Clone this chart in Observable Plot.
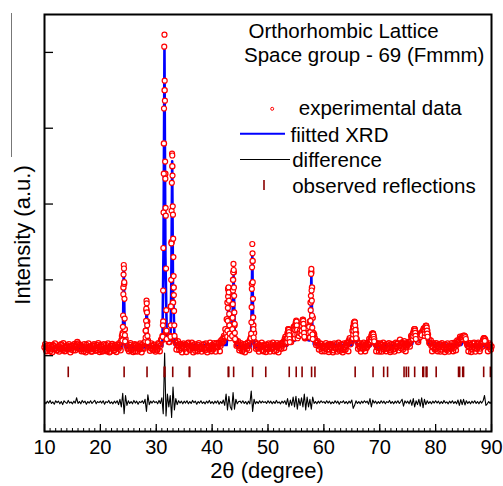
<!DOCTYPE html>
<html><head><meta charset="utf-8">
<script src="https://cdn.jsdelivr.net/npm/d3@7"></script>
<script src="https://cdn.jsdelivr.net/npm/@observablehq/plot@0.6"></script>
<style>
html,body{margin:0;padding:0;background:#fff;}
#chart{width:503px;height:486px;}
</style></head><body><div id="chart"></div>
<script>
// ---- data ----
const obsStep = 0.25;
// experimental data on the measurement grid: [start 2θ, counts every 0.25°]
const obsRows = [
  [10, [110, 80, 130, 95, 60, 120, 140, 85, 100, 70, 125, 90, 150, 75, 105, 65, 135, 95, 115, 80]],
  [15, [100, 130, 70, 150, 160, 110, 85, 120, 60, 95, 140, 75, 105, 125, 55, 90, 130, 100, 70, 115]],
  [20, [85, 120, 65, 100, 140, 80, 110, 55, 95, 130, 75, 105, 145, 90, 120, 200, 300, 950, 220, 130]],
  [25, [95, 140, 70, 110, 125, 60, 100, 135, 85, 115, 150, 90, 180, 600, 200, 120, 100, 130, 80, 110]],
  [30, [120, 90, 150, 130, 200, 450, 3500, 320, 220, 180, 260, 1500, 700, 230, 170, 140, 120, 150, 100, 130]],
  [35, [90, 145, 110, 170, 75, 120, 100, 135, 65, 110, 140, 85, 120, 95, 150, 70, 105, 130, 80, 115]],
  [40, [140, 95, 120, 160, 110, 150, 130, 170, 190, 240, 300, 700, 800, 300, 350, 1000, 400, 200, 150, 130]],
  [45, [100, 135, 80, 120, 155, 90, 130, 200, 250, 1250, 300, 160, 120, 95, 140, 110, 75, 130, 100, 145]],
  [50, [85, 120, 150, 95, 110, 140, 70, 125, 100, 160, 130, 180, 220, 160, 300, 330, 200, 220, 300, 350]],
  [55, [440, 300, 260, 330, 380, 470, 300, 240, 260, 300, 450, 1100, 500, 280, 200, 170, 140, 120, 150, 100]],
  [60, [130, 95, 120, 145, 80, 110, 135, 70, 105, 150, 90, 120, 100, 140, 75, 115, 130, 160, 200, 150]],
  [65, [200, 380, 440, 300, 180, 130, 100, 135, 90, 115, 150, 120, 140, 180, 260, 290, 220, 150, 110, 130]],
  [70, [95, 140, 110, 80, 125, 150, 100, 135, 70, 120, 145, 90, 115, 160, 130, 100, 175, 120, 150, 110]],
  [75, [140, 160, 190, 240, 300, 350, 260, 200, 230, 290, 280, 330, 350, 390, 330, 220, 160, 130, 110, 140]],
  [80, [95, 130, 110, 150, 80, 120, 100, 145, 75, 115, 135, 90, 125, 105, 150, 140, 180, 210, 230, 240]],
  [85, [260, 250, 180, 130, 110, 140, 85, 120, 100, 135, 150, 120, 95, 160, 200, 225, 180, 130, 110, 140]],
  [90, [120]]
];
// experimental data measured midway between the grid steps (start + 0.125°)
const obsRowsMid = [
  [10, [150, 60, 105, 140, 85, 45, 125, 160, 70, 115, 55, 140, 95, 165, 60, 120, 85, 150, 45, 130]],
  [15, [70, 155, 120, 180, 90, 145, 60, 100, 150, 45, 115, 160, 80, 55, 135, 150, 65, 140, 165, 50]],
  [20, [140, 55, 150, 75, 60, 160, 45, 130, 155, 65, 140, 50, 110, 165, 70, 260, 900, 350, 160, 90]],
  [25, [60, 165, 115, 50, 150, 140, 55, 90, 160, 45, 105, 170, 330, 450, 150, 65, 160, 75, 145, 55]],
  [30, [70, 165, 60, 210, 260, 2800, 2400, 220, 260, 180, 650, 2500, 900, 200, 80, 190, 75, 155, 45, 160]],
  [35, [145, 50, 160, 95, 130, 170, 45, 150, 100, 60, 165, 120, 55, 140, 90, 160, 45, 120, 170, 60]],
  [40, [80, 165, 55, 120, 170, 60, 200, 220, 260, 350, 480, 880, 400, 260, 500, 1100, 220, 130, 190, 70]],
  [45, [165, 60, 150, 45, 120, 170, 75, 230, 950, 400, 180, 90, 160, 55, 125, 170, 60, 145, 50, 110]],
  [50, [160, 55, 95, 170, 60, 120, 165, 45, 150, 90, 170, 100, 250, 230, 350, 220, 180, 280, 380, 400]],
  [55, [420, 260, 310, 360, 430, 400, 230, 260, 280, 380, 700, 900, 300, 230, 140, 190, 80, 160, 60, 130]],
  [60, [60, 165, 80, 50, 155, 140, 45, 160, 95, 55, 170, 65, 150, 45, 160, 80, 170, 60, 230, 190]],
  [65, [330, 430, 360, 220, 90, 165, 55, 150, 170, 60, 100, 170, 220, 210, 290, 260, 170, 60, 165, 55]],
  [70, [160, 55, 170, 140, 60, 90, 165, 50, 155, 80, 55, 170, 160, 70, 210, 160, 80, 190, 60, 165]],
  [75, [180, 120, 260, 280, 330, 310, 240, 180, 280, 300, 320, 360, 370, 350, 280, 170, 200, 60, 165, 80]],
  [80, [165, 60, 150, 55, 165, 140, 50, 90, 160, 55, 100, 165, 60, 170, 70, 200, 160, 250, 210, 260]],
  [85, [240, 200, 150, 60, 165, 50, 160, 170, 55, 90, 170, 60, 165, 120, 230, 210, 150, 60, 160, 80]]
];
// extra experimental points measured across the peaks: [2θ, counts]
const peakPoints = [
  [23.95,200],[23.99,280],[24.03,380],[24.07,530],[24.11,810],[24.15,1070],[24.19,1196],[24.23,1150],[24.27,970],[24.31,750],[24.35,490],[24.39,270],[24.43,190],
  [28.06,190],[28.10,240],[28.14,330],[28.18,460],[28.22,620],[28.26,725],[28.30,690],[28.34,570],[28.38,400],[28.42,260],[28.46,180],
  [31.15,250],[31.19,400],[31.23,860],[31.27,1420],[31.31,1890],[31.35,2400],[31.39,3260],[31.43,4075],[31.47,4234],[31.51,3627],[31.55,3363],[31.59,2560],[31.63,2335],[31.67,1950],[31.71,1846],[31.75,1150],[31.79,600],[31.83,330],[31.87,220],
  [32.55,250],[32.59,400],[32.63,650],[32.67,1000],[32.71,1480],[32.75,1910],[32.79,2280],[32.83,2665],[32.87,2640],[32.91,2375],[32.95,1970],[32.99,1860],[33.03,1543],[33.07,1300],[33.11,1050],[33.15,800],[33.19,590],[33.23,400],[33.27,260],
  [42.70,250],[42.74,330],[42.78,460],[42.82,630],[42.86,780],[42.90,880],[42.94,901],[42.98,835],[43.02,725],[43.06,550],[43.10,400],[43.14,290],[43.18,230],
  [43.58,260],[43.62,350],[43.66,500],[43.70,680],[43.74,860],[43.78,1100],[43.82,1210],[43.86,1130],[43.90,900],[43.94,790],[43.98,570],[44.02,420],[44.06,300],[44.10,220],
  [46.95,230],[46.99,290],[47.03,440],[47.07,640],[47.11,880],[47.15,1165],[47.19,1473],[47.23,1350],[47.27,970],[47.31,750],[47.35,505],[47.39,350],[47.43,240],
  [53.45,180],[53.5,230],[53.55,290],[53.6,330],[53.65,352],[53.7,340],[53.75,310],[53.8,270],[53.85,220],[53.9,180],
  [54.8,230],[54.85,280],[54.9,340],[54.95,400],[55.0,440],[55.05,462],[55.1,450],[55.15,400],[55.2,340],[55.25,280],[55.3,230],[55.5,260],[55.6,300],[55.7,330],[55.8,300],
  [56.0,280],[56.05,330],[56.1,390],[56.15,440],[56.2,470],[56.25,475],[56.3,460],[56.35,420],[56.4,360],[56.45,300],[56.5,250],
  [57.52,240],[57.56,310],[57.60,460],[57.64,600],[57.68,790],[57.72,1078],[57.76,1144],[57.80,860],[57.84,725],[57.88,530],[57.92,370],[57.96,280],[58.00,220],
  [65.2,230],[65.25,280],[65.3,330],[65.35,380],[65.4,420],[65.45,440],[65.5,449],[65.55,440],[65.6,400],[65.65,340],[65.7,280],[65.75,230],
  [68.55,200],[68.6,240],[68.65,270],[68.7,285],[68.75,294],[68.8,290],[68.85,280],[68.9,250],[68.95,220],[69.0,190],
  [75.95,220],[76.0,260],[76.05,300],[76.1,330],[76.15,345],[76.2,352],[76.25,350],[76.3,330],[76.35,300],[76.4,260],[76.45,220],
  [77.3,250],[77.35,280],[77.4,290],[77.45,285],[77.5,270],
  [78.05,260],[78.1,300],[78.15,340],[78.2,370],[78.25,390],[78.3,396],[78.35,390],[78.4,370],[78.45,330],[78.5,290],[78.55,250],
  [84.85,220],[84.95,240],[85.0,255],[85.1,264],[85.2,260],[85.3,245],[85.4,220],
  [88.5,190],[88.55,210],[88.6,225],[88.65,228],[88.7,225],[88.75,215],[88.8,195]
];
// fitted XRD profile: [2θ, intensity]
const fitted = [
  [10,100],[23.9,105],[24.05,400],[24.19,1165],[24.33,400],[24.5,110],
  [28.0,110],[28.15,300],[28.28,686],[28.42,280],[28.6,115],
  [31.1,130],[31.3,1400],[31.47,4063],[31.64,1300],[31.9,200],
  [32.55,200],[32.7,1000],[32.85,2563],[33.0,900],[33.3,140],
  [42.6,140],[42.8,400],[42.94,850],[43.1,400],[43.3,300],[43.6,350],[43.84,1055],[44.05,330],[44.3,130],
  [46.9,120],[47.05,500],[47.19,1345],[47.33,480],[47.5,110],
  [53.4,130],[53.69,330],[54.0,180],[54.8,200],[55.07,430],[55.4,250],[56.0,250],[56.27,450],[56.6,220],
  [57.4,200],[57.62,500],[57.76,1055],[57.9,450],[58.2,150],
  [65.1,140],[65.52,420],[65.9,140],[68.4,130],[68.82,280],[69.2,120],
  [75.8,150],[76.27,330],[76.8,200],[77.45,270],[78.37,380],[78.9,150],
  [84.6,140],[85.23,250],[85.7,130],[88.4,120],[88.71,215],[89.0,115],[90,100]
];
// difference curve (obs - fit) on the 0.25° grid, drawn shifted below
const diffOffset = -615;
const diffRows = [
  [10, [10,-20,15,-10,25,-15,5,-25,20,-5,15,-20,10,-30,20,0,-15,25,-10,5]],
  [15, [-20,15,-10,60,-15,10,-20,25,-5,15,-25,10,-10,20,-15,5,25,-20,10,-5]],
  [20, [15,-10,20,-25,10,-5,25,-15,5,-20,15,-10,20,-30,40,-60,120,-150,90,-40]],
  [25, [20,-15,10,-20,25,-10,15,-25,10,-5,20,-15,40,-120,100,-30,15,-10,20,-5]],
  [30, [10,-20,25,-15,60,-150,650,-180,110,-60,90,-200,200,-100,50,-30,20,-10,15,-20]],
  [35, [15,-10,20,-20,10,-15,25,-5,15,-25,10,-10,20,-15,5,-20,15,-10,25,-15]],
  [40, [10,-20,15,-10,20,-25,10,-15,30,-40,110,-100,80,-60,-100,130,-90,40,-20,10]],
  [45, [15,-10,20,-15,10,-25,15,-20,150,-120,40,-20,10,-15,20,-10,15,-5,10,-15]],
  [50, [20,-10,15,-20,10,-15,25,-10,5,-20,15,-10,20,-30,50,-60,30,-40,70,-60]],
  [55, [80,-90,50,-40,60,-60,110,-100,70,-60,40,-90,70,-15,10,-20,15,-10,20,-5]],
  [60, [10,-15,20,-10,15,-20,5,-15,20,-10,15,-25,10,-5,20,-15,10,-20,15,-10]],
  [65, [30,-80,-40,20,-15,10,-20,15,-10,20,-5,15,-25,50,-60,30,-10,15,-20,10]],
  [70, [-15,20,-10,15,-20,10,-5,25,-15,10,-20,15,-10,20,-15,10,40,-50,20,-10]],
  [75, [15,-20,30,-40,50,-60,20,-30,40,-50,60,-70,40,-30,20,-15,10,-20,15,-10]],
  [80, [20,-10,15,-20,10,-15,25,-10,5,-20,15,-10,20,-15,10,-20,30,-40,35,-30]],
  [85, [40,-35,20,-15,10,-20,15,-10,20,-15,10,-20,15,-10,20,90,-40,-20,10,-15]],
  [90, [10]]
];
// observed reflection positions (2θ)
const reflections = [14.25, 24.25, 28.35, 31.42, 31.55, 32.95, 35.9, 36.0, 42.88, 42.98, 43.85, 47.25, 49.6,
  53.8, 55.05, 56.1, 57.8, 58.4, 65.6, 68.8, 70.7, 71.4, 74.35, 74.75, 75.15, 76.25, 77.7, 77.85, 78.3, 78.45,
  80.1, 84.1, 84.3, 84.85, 85.0, 88.6, 89.8];
const xTickLabels = [10, 20, 30, 40, 50, 60, 70, 80, 90];
const yTicks = [0, 1000, 2000, 3000, 4000];
const titleLines = ["Orthorhombic Lattice", "Space group - 69 (Fmmm)"];
const legendLabels = ["experimental data", "fiitted XRD", "difference", "observed reflections"];

// ---- build tables ----
const expand = (rows, shift) => rows.flatMap(([s, vals]) => vals.map((v, i) => ({x: s + shift + i * obsStep, y: v})));
const obsGrid = expand(obsRows, 0).concat(expand(obsRowsMid, obsStep / 2)).sort((a, b) => a.x - b.x);
const obsPeaks = peakPoints.map(([x, y]) => ({x, y}));
const fitData = fitted.map(([x, y]) => ({x, y}));
const diffData = expand(diffRows, 0).map(d => ({x: d.x, y: d.y + diffOffset}));
const minorTicks = d3.range(10, 91, 1);

const W = 503, H = 486, mL = 44, mR = 12, mT = 14, mB = 55;
const fw = W - mL - mR, fh = H - mT - mB;
const font = '"Liberation Sans", Arial, sans-serif';

const txt = (s, dx, dy, size) => Plot.text([s], {text: d => d, frameAnchor: "top-left", dx, dy,
  textAnchor: "start", lineAnchor: "middle", fontSize: size, fill: "black"});

const plot = Plot.plot({
  width: W, height: H,
  marginLeft: mL, marginRight: mR, marginTop: mT, marginBottom: mB,
  x: {domain: [10, 90], axis: null},
  y: {domain: [-1000, 4500], axis: null},
  style: {fontFamily: font, background: "white", overflow: "visible", color: "black"},
  marks: [
    Plot.line(fitData, {x: "x", y: "y", stroke: "#0000ff", strokeWidth: 2.6}),
    Plot.dot(obsGrid, {x: "x", y: "y", r: 2.6, stroke: "#ff0000", strokeWidth: 1.3, fill: d => d.y > 280 ? "white" : "none"}),
    Plot.dot(obsPeaks, {x: "x", y: "y", r: 2.5, stroke: "#ff0000", strokeWidth: 1.2, fill: "white"}),
    Plot.line(diffData, {x: "x", y: "y", stroke: "black", strokeWidth: 1.1}),
    Plot.ruleX(reflections, {x: d => d, y1: -150, y2: -290, stroke: "#8b0000", strokeWidth: 1.6}),
    Plot.ruleX(minorTicks, {x: d => d, insetTop: fh - 3, stroke: "black", strokeWidth: 1}),
    Plot.ruleX(xTickLabels, {x: d => d, insetTop: fh - 7, stroke: "black", strokeWidth: 1.3}),
    Plot.ruleY(yTicks, {y: d => d, insetRight: fw - 9, stroke: "black", strokeWidth: 1.3}),
    Plot.frame({stroke: "black", strokeWidth: 2}),
    Plot.axisX(xTickLabels, {anchor: "bottom", tickSize: 0, tickPadding: 8, fontSize: 20, label: null, tickFormat: d => String(d)}),
    Plot.text(["Intensity (a.u.)"], {text: d => d, frameAnchor: "left", rotate: -90, dx: -22, dy: 12,
      fontSize: 22, textAnchor: "middle", lineAnchor: "middle", fill: "black"}),
    Plot.text(["2θ (degree)"], {text: d => d, frameAnchor: "bottom", dx: -1, dy: 39,
      fontSize: 22, textAnchor: "middle", lineAnchor: "middle", fill: "black"}),
    // stray vertical line at far left of the reference
    Plot.ruleX([10], {x: d => d, dx: -33, insetTop: -1, insetBottom: fh + mT - 157, stroke: "#777", strokeWidth: 1}),
    // title block
    txt(titleLines[0], 204, 17, 20.5),
    txt(titleLines[1], 199.5, 41, 20.5),
    // legend
    Plot.dot([0], {frameAnchor: "top-left", dx: 227.7, dy: 94.3, r: 1.5, stroke: "#ff0000", strokeWidth: 1}),
    txt(legendLabels[0], 254.3, 94, 20.5),
    Plot.ruleY([4500], {y: d => d, dy: 119.3, insetLeft: 196, insetRight: fw - 241, stroke: "#0000ff", strokeWidth: 2}),
    txt(legendLabels[1], 246, 121, 20.5),
    Plot.ruleY([4500], {y: d => d, dy: 145, insetLeft: 196, insetRight: fw - 246, stroke: "black", strokeWidth: 1.2}),
    txt(legendLabels[2], 247.7, 146, 20.5),
    Plot.ruleX([10], {x: d => d, dx: 219.5, insetTop: 166, insetBottom: fh - 176, stroke: "#8b0000", strokeWidth: 1.6}),
    txt(legendLabels[3], 247.7, 172, 20.5)
  ]
});
document.getElementById("chart").append(plot);
</script>
</body></html>
